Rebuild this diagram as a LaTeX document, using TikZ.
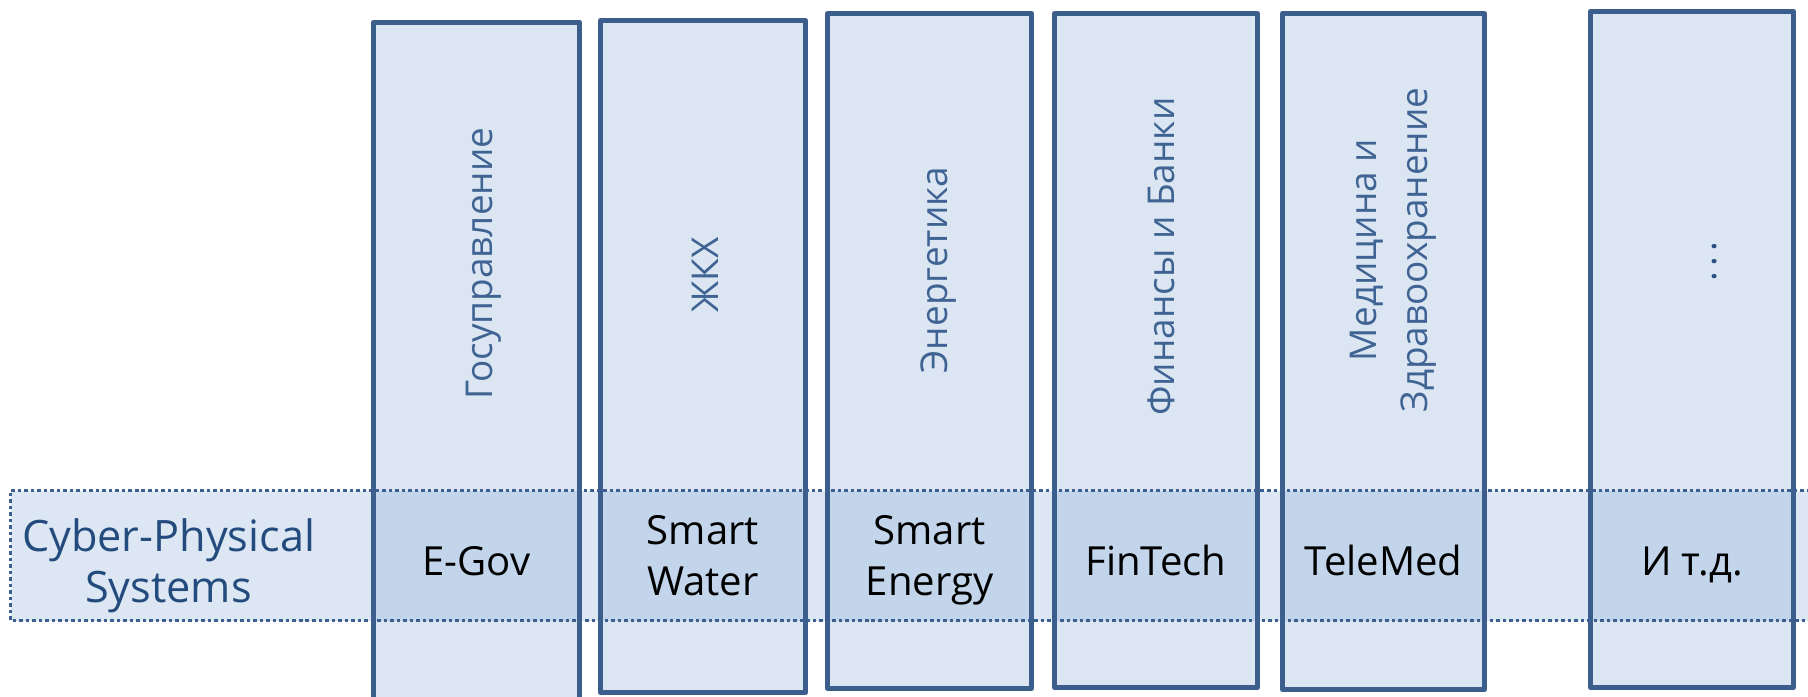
\documentclass[tikz,border=0pt]{standalone}
\usepackage{fontspec}
\setmainfont{Open Sans}
\definecolor{colfill}{HTML}{DCE6F2}
\definecolor{bandfill}{HTML}{DDE7F3}
\definecolor{overfill}{HTML}{C3D5EB}
\definecolor{colborder}{HTML}{3B5E8C}
\definecolor{banddot}{HTML}{3A5F90}
\definecolor{vtext}{HTML}{3F6393}
\definecolor{cpstext}{HTML}{234B7D}
\definecolor{dotcol}{HTML}{2B4F80}
\begin{document}
\begin{tikzpicture}[x=0.01cm,y=-0.01cm,
  colline/.style={draw=colborder,line width=1.45pt,line join=round},
  banddots/.style={draw=banddot,line width=1.0pt,dash pattern=on 1.0pt off 0.85pt},
  bandlbl/.style={inner sep=0pt,align=center,text=black,font=\fontsize{11.4}{14.5}\selectfont},
  cpslbl/.style={inner sep=0pt,align=center,text=cpstext,font=\fontsize{12.3}{14.5}\selectfont},
  vlbl/.style={inner sep=0pt,rotate=90,align=center,text=vtext,font=\fontsize{10.5}{14.5}\selectfont}]
\useasboundingbox (0,0) rectangle (1808,696);
\clip (0,0) rectangle (1808,696);
% band fill
\fill[bandfill] (10.5,490.5) rectangle (1830,620.5);
% columns: left, right, top, bottom
\foreach \l/\r/\t/\b in {373.5/579.5/22.5/720, 600.5/805.5/20.5/692.5, 827.5/1031.5/13.5/688.5, 1054.5/1257.5/13.5/687.5, 1282.5/1484.5/13.5/689.5, 1590.5/1793.5/11.5/687.5}{
  \fill[colfill] (\l,\t) rectangle (\r,\b);
  \fill[overfill] (\l,490.5) rectangle (\r,620.5);
  \draw[colline] (\l,\t) rectangle (\r,\b);
}
% band dotted border
\draw[banddots] (1830,490.5) -- (10.5,490.5) -- (10.5,620.5) -- (1830,620.5);
% left label
\node[cpslbl] (cps) at (168.5,565.8) {Cyber-Physical\\Systems};
% band labels
\node[bandlbl,anchor=base] (egov) at (476.5,575) {E-Gov};
\node[bandlbl] (water) at (703,555.7) {Smart\\Water};
\node[bandlbl] (energy) at (929.5,560.5) {Smart\\Energy};
\node[bandlbl,anchor=base] (fintech) at (1156,575) {FinTech};
\node[bandlbl,anchor=base] (telemed) at (1383.5,575) {TeleMed};
\node[bandlbl,anchor=base] (etc) at (1692,575) {И т.д.};
% vertical labels
\node[vlbl,anchor=base] (gos) at (492,263.5) {Госуправление};
\node[vlbl,anchor=base] (zhkh) at (718,275) {ЖКХ};
\node[vlbl,anchor=base] (energ) at (947,270) {Энергетика};
\node[vlbl,anchor=base] (fin) at (1174,256.5) {Финансы и Банки};
\node[vlbl] (med) at (1392.8,250) {Медицина и\\Здравоохранение};
\node[vlbl,anchor=base,text=dotcol] (dots) at (1716.5,261.5) {.\kern1.6pt.\kern1.6pt.};
\end{tikzpicture}
\end{document}
